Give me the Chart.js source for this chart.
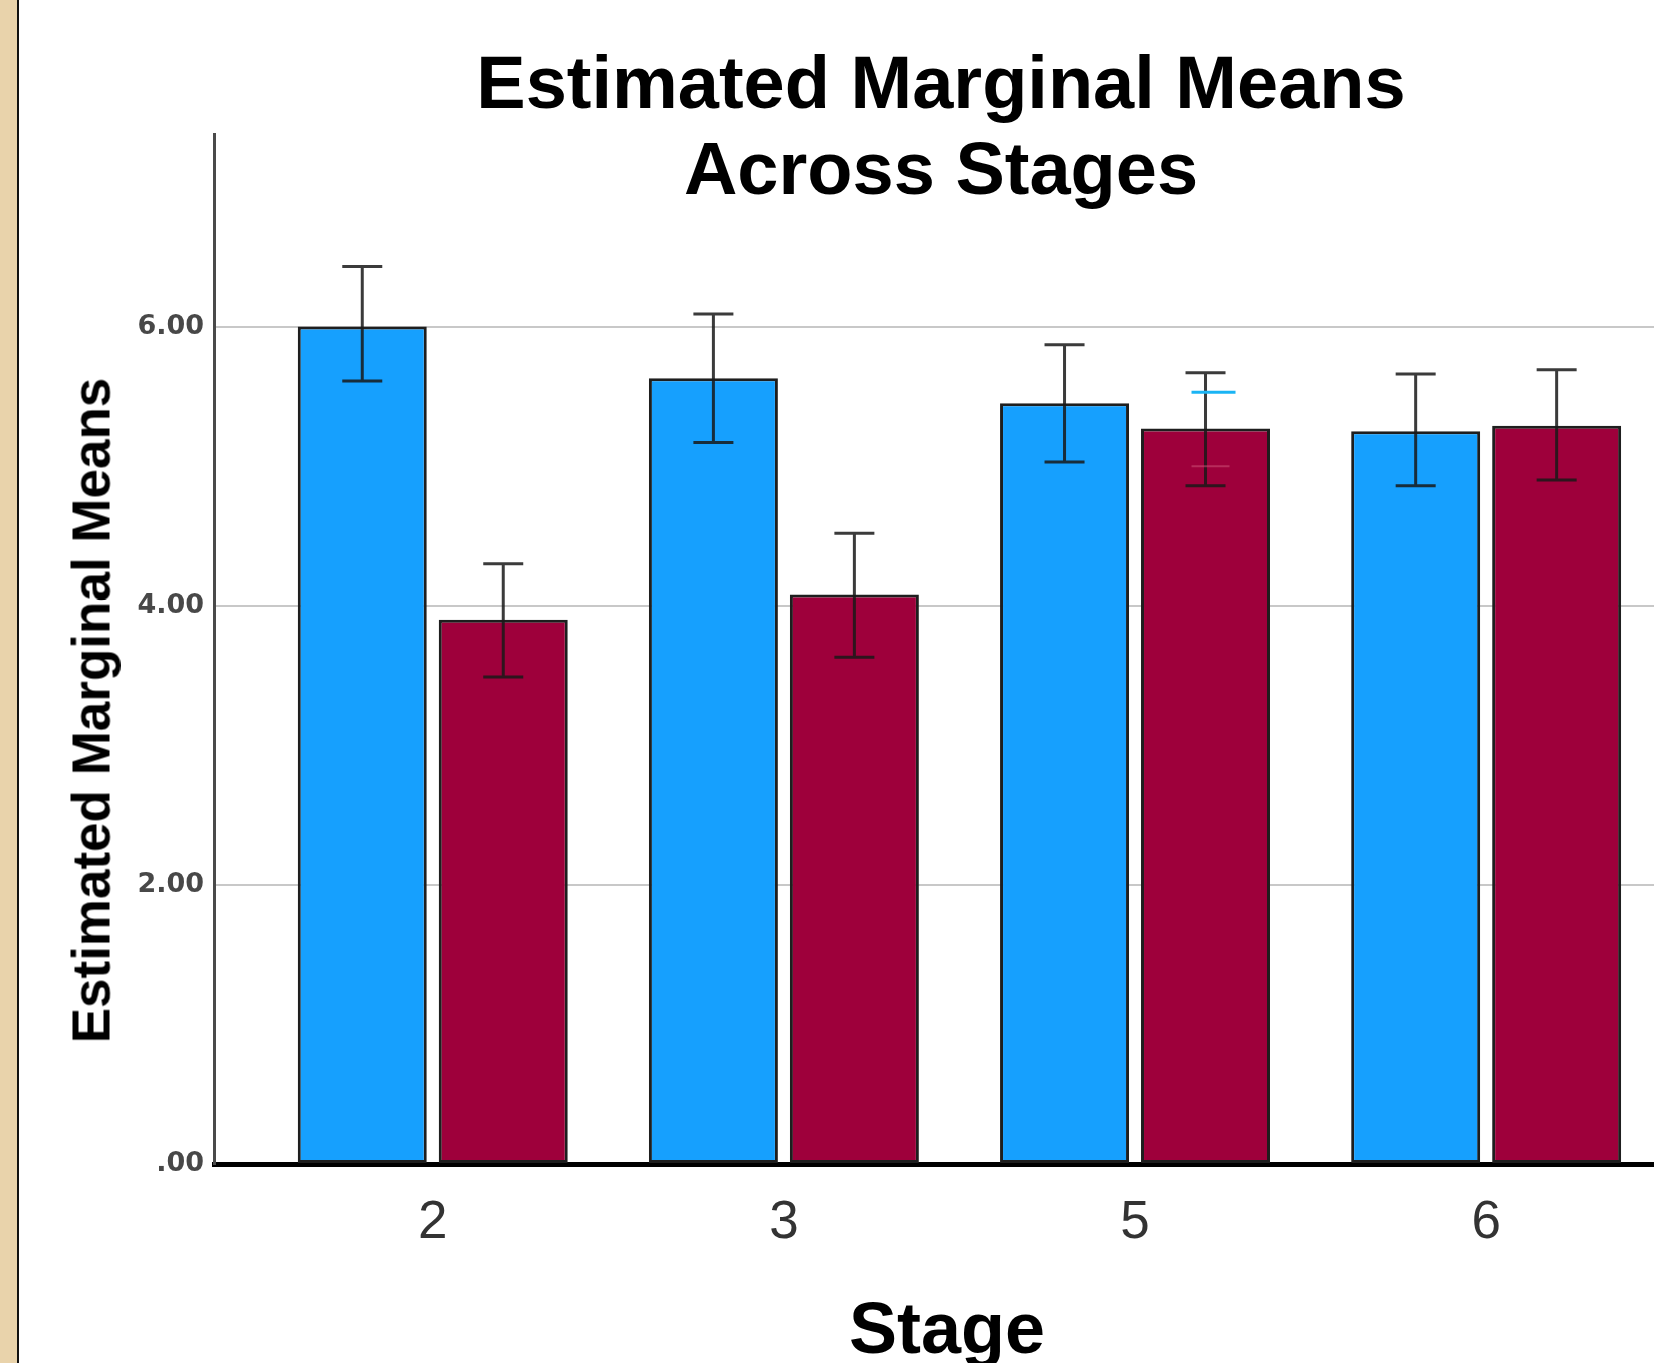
<!DOCTYPE html>
<html>
<head>
<meta charset="utf-8">
<script src="https://cdn.jsdelivr.net/npm/chart.js@4.4.1/dist/chart.umd.min.js"></script>
<style>
  html, body { margin: 0; padding: 0; background: #fff; }
  body { width: 1654px; height: 1363px; position: relative; overflow: hidden; font-family: "Liberation Sans", Arial, sans-serif; }
  #strip { position: absolute; left: 0; top: 0; width: 17px; height: 1363px; background: #e9d3ab; border-right: 2px solid #111; z-index: 2; }
  #chartBox { position: absolute; left: 0; top: 0; width: 1654px; height: 1363px; }
  .txt { position: absolute; color: #000; font-weight: bold; text-align: center; white-space: nowrap; z-index: 3; }
  #mainTitle { left: 441px; top: 40px; width: 1000px; font-size: 74px; line-height: 86px; }
  #xTitle { left: 647px; top: 1292px; width: 600px; font-size: 72px; line-height: 72px; }
  #yTitle { left: -309px; top: 684px; width: 800px; height: 53px; font-size: 53px; line-height: 53px; transform: rotate(-90deg); }
</style>
</head>
<body>
<div id="strip"></div>
<div id="chartBox"><canvas id="emmChart" width="1654" height="1363"></canvas></div>
<div class="txt" id="mainTitle">Estimated Marginal Means<br>Across Stages</div>
<div class="txt" id="yTitle">Estimated Marginal Means</div>
<div class="txt" id="xTitle">Stage</div>
<script>
// stages on the x axis
const stages = ['2', '3', '5', '6'];

// first group (blue)
const blueMeans = [6.00, 5.63, 5.45, 5.25];
const blueUpper = [6.43, 6.09, 5.87, 5.66];
const blueLower = [5.61, 5.17, 5.03, 4.86];

// second group (red)
const redMeans = [3.90, 4.08, 5.27, 5.29];
const redUpper = [4.30, 4.52, 5.67, 5.69];
const redLower = [3.49, 3.63, 4.86, 4.90];

// stray caps left over in the original picture (stage 5, red bar)
const redGhostUpper = [null, null, 5.53, null];
const redGhostLower = [null, null, 5.00, null];

const yTicks = [0, 2, 4, 6];

const errorBars = {
  id: 'errorBars',
  afterDatasetsDraw(chart) {
    const { ctx } = chart;
    const y = chart.scales.y;
    chart.data.datasets.forEach((ds, di) => {
      const meta = chart.getDatasetMeta(di);
      meta.data.forEach((bar, i) => {
        const top = y.getPixelForValue(ds.upper[i]);
        const bot = y.getPixelForValue(ds.lower[i]);
        ctx.save();
        ctx.strokeStyle = 'rgba(25,25,25,0.85)';
        ctx.lineWidth = 3;
        ctx.beginPath();
        ctx.moveTo(bar.x, top); ctx.lineTo(bar.x, bot);
        ctx.moveTo(bar.x - 20, top); ctx.lineTo(bar.x + 20, top);
        ctx.moveTo(bar.x - 20, bot); ctx.lineTo(bar.x + 20, bot);
        ctx.stroke();
        if (ds.ghostUpper && ds.ghostUpper[i] != null) {
          const gy = y.getPixelForValue(ds.ghostUpper[i]);
          ctx.strokeStyle = '#1ab4f4';
          ctx.beginPath(); ctx.moveTo(bar.x - 14, gy); ctx.lineTo(bar.x + 30, gy); ctx.stroke();
        }
        if (ds.ghostLower && ds.ghostLower[i] != null) {
          const gy = y.getPixelForValue(ds.ghostLower[i]);
          ctx.strokeStyle = 'rgba(205,80,120,0.55)';
          ctx.lineWidth = 2;
          ctx.beginPath(); ctx.moveTo(bar.x - 14, gy); ctx.lineTo(bar.x + 24, gy); ctx.stroke();
        }
        ctx.restore();
      });
    });
  }
};

const barOpts = {
  borderColor: '#1e1e1e',
  borderWidth: 3,
  borderSkipped: false,
  categoryPercentage: 0.803,
  barPercentage: 0.915
};

new Chart(document.getElementById('emmChart'), {
  type: 'bar',
  data: {
    datasets: [
      Object.assign({
        label: 'Group 1',
        data: blueMeans.map((v, i) => ({ x: i, y: v })),
        upper: blueUpper, lower: blueLower,
        backgroundColor: '#16a0fe'
      }, barOpts),
      Object.assign({
        label: 'Group 2',
        data: redMeans.map((v, i) => ({ x: i, y: v })),
        upper: redUpper, lower: redLower,
        ghostUpper: redGhostUpper, ghostLower: redGhostLower,
        backgroundColor: '#9e003b'
      }, barOpts)
    ]
  },
  options: {
    responsive: false,
    animation: false,
    layout: { padding: { left: 0, top: 134, right: 0, bottom: 0 } },
    plugins: { legend: { display: false }, tooltip: { enabled: false } },
    scales: {
      x: {
        type: 'linear',
        min: -0.623,
        max: 3.478,
        offset: false,
        z: 1,
        grid: { display: false, drawTicks: false },
        border: { color: '#000', width: 5 },
        afterBuildTicks(scale) { scale.ticks = stages.map((s, i) => ({ value: i })); },
        afterFit(scale) { scale.height = 199; },
        ticks: {
          callback: v => stages[v],
          font: { family: '"Liberation Sans", Arial, sans-serif', size: 53 },
          color: '#333',
          padding: 28,
          maxRotation: 0
        }
      },
      y: {
        min: 0,
        max: 7.38,
        afterBuildTicks(scale) { scale.ticks = yTicks.map(v => ({ value: v })); },
        afterFit(scale) { scale.width = 214; },
        grid: { color: '#c8c8c8', lineWidth: 2, drawTicks: false },
        border: { color: '#4a4a4a', width: 3 },
        ticks: {
          callback: v => v === 0 ? '.00' : v.toFixed(2),
          font: { family: '"DejaVu Sans", sans-serif', size: 27, weight: 'bold' },
          color: '#484848',
          padding: 10
        }
      }
    }
  },
  plugins: [errorBars]
});
</script>
</body>
</html>
